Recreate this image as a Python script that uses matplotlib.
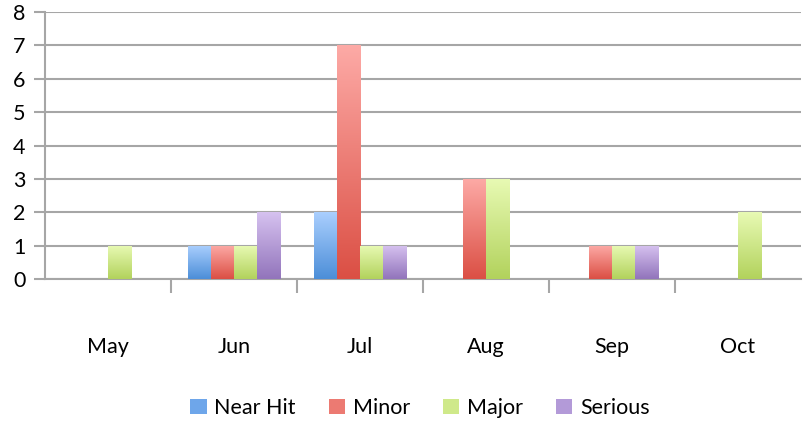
import matplotlib
matplotlib.use("Agg")
import matplotlib.pyplot as plt
import numpy as np
from matplotlib.colors import LinearSegmentedColormap
from matplotlib.patches import Patch

plt.rcParams['font.family'] = ['Lato', 'DejaVu Sans']

months = ["May", "Jun", "Jul", "Aug", "Sep", "Oct"]
series = ["Near Hit", "Minor", "Major", "Serious"]
near_hit = [0, 1, 2, 0, 0, 0]
minor = [0, 1, 7, 3, 1, 0]
major = [1, 1, 1, 3, 1, 2]
serious = [0, 2, 1, 0, 1, 0]
values = [near_hit, minor, major, serious]

tops = ["#aacffe", "#fdaaa6", "#e8fab4", "#d6c2f0"]
bottoms = ["#4c8ed8", "#db4f44", "#b2d25c", "#9274bb"]
solid = ["#6ea6ea", "#ec7a72", "#cfe98a", "#b39ad8"]

fig = plt.figure(figsize=(8.04, 4.21), dpi=100)
ax = fig.add_axes([45/804, 1-279/421, 756/804, 267/421])

n = len(months)
bw = 0.183
grad = np.linspace(0, 1, 256).reshape(-1, 1)
for si, vals in enumerate(values):
    cmap = LinearSegmentedColormap.from_list("g", [bottoms[si], tops[si]])
    for i, v in enumerate(vals):
        if v <= 0:
            continue
        x0 = i + 0.5 + (si - 2) * bw
        bars = ax.bar(x0, v, width=bw, align='edge', color='none', edgecolor='none', zorder=3)
        im = ax.imshow(grad, extent=[x0, x0 + bw, 0, v], origin='lower', cmap=cmap,
                       aspect='auto', zorder=3, interpolation='bilinear')
        im.set_clip_path(bars[0])

ax.set_xlim(0, n)
ax.set_ylim(0, 8)
ax.set_yticks(range(0, 9))
ax.yaxis.grid(True, color="#a6a6a6", linewidth=1.5, zorder=0)
ax.set_axisbelow(True)
for s in ["top", "right"]:
    ax.spines[s].set_visible(False)
for s in ["left", "bottom"]:
    ax.spines[s].set_color("#a6a6a6")
    ax.spines[s].set_linewidth(1.5)
ax.tick_params(axis='y', length=8, width=1.5, color="#a6a6a6", labelsize=15.5, pad=6)
ax.set_xticks(range(1, n))
ax.set_xticklabels([])
ax.tick_params(axis='x', length=10, width=1.5, color="#a6a6a6")
for i, m in enumerate(months):
    ax.text(i + 0.5, -2.04, m, ha='center', va='center', fontsize=15.5)

handles = [Patch(facecolor=solid[k], edgecolor='none') for k in range(4)]
fig.legend(handles, series, loc='center', bbox_to_anchor=(420/804, 1-408/421), ncol=4,
           frameon=False, fontsize=15.5, handlelength=0.75, handleheight=0.75,
           handletextpad=0.35, columnspacing=1.55)

fig.savefig("out.png", dpi=100)
